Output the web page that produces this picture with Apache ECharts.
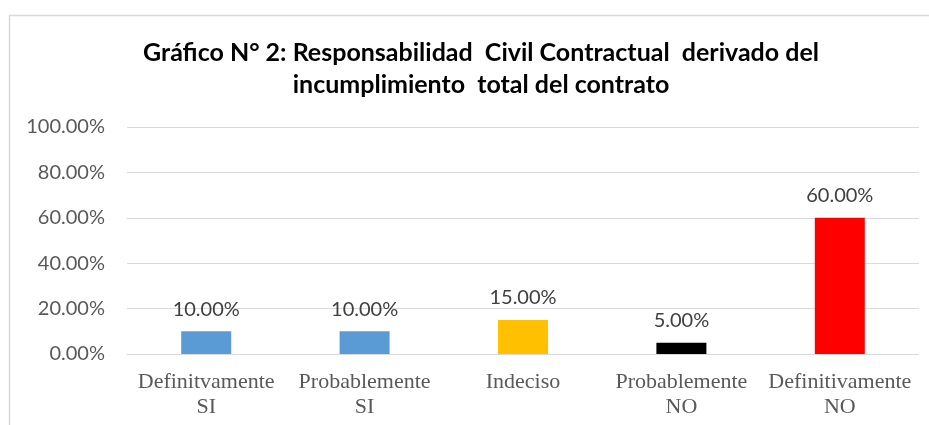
<!DOCTYPE html>
<html>
<head>
<meta charset="utf-8">
<script src="https://cdn.jsdelivr.net/npm/echarts@6/dist/echarts.min.js"></script>
<style>
  html, body { margin: 0; padding: 0; background: #fff; }
  #chart { width: 929px; height: 425px; }
</style>
</head>
<body>
<div id="chart"></div>
<script>
// datos del gráfico
const categorias = ['Definitvamente\nSI', 'Probablemente\nSI', 'Indeciso', 'Probablemente\nNO', 'Definitivamente\nNO'];
const porcentajes = [10, 10, 15, 5, 60];
const colores = ['#5B9BD5', '#5B9BD5', '#FFC000', '#000000', '#FF0000'];
const titulo = 'Gráfico N° 2: Responsabilidad  Civil Contractual  derivado del\nincumplimiento  total del contrato';

const myChart = echarts.init(document.getElementById('chart'));

const option = {
  animation: false,
  title: {
    text: titulo,
    left: 476,
    top: 32,
    textAlign: 'center',
    textStyle: {
      fontFamily: 'Lato',
      fontWeight: 'bold',
      fontSize: 25,
      lineHeight: 32,
      color: '#000'
    }
  },
  graphic: [{
    type: 'rect',
    shape: { x: 9.5, y: 15.5, width: 940, height: 440 },
    style: { fill: 'none', stroke: '#d9d9d9', lineWidth: 1.5 },
    silent: true
  }],
  grid: { left: 127, right: 10, top: 127, bottom: 71 },
  xAxis: {
    type: 'category',
    data: categorias,
    axisLine: { show: false },
    axisTick: { show: false },
    axisLabel: {
      interval: 0,
      margin: 16,
      fontFamily: 'Liberation Serif',
      fontSize: 22,
      lineHeight: 25,
      color: '#595959'
    }
  },
  yAxis: {
    type: 'value',
    min: 0,
    max: 100,
    interval: 20,
    axisLine: { show: false },
    axisTick: { show: false },
    splitLine: { lineStyle: { color: '#d9d9d9', width: 1 } },
    axisLabel: {
      margin: 22,
      fontFamily: 'Lato',
      fontSize: 20,
      color: '#595959',
      formatter: v => v.toFixed(2) + '%'
    }
  },
  series: [{
    type: 'bar',
    barWidth: 50,
    data: porcentajes.map((v, i) => ({ value: v, itemStyle: { color: colores[i] } })),
    label: {
      show: true,
      position: 'top',
      distance: 12,
      fontFamily: 'Lato',
      fontSize: 20,
      color: '#404040',
      formatter: p => p.value.toFixed(2) + '%'
    }
  }]
};

myChart.setOption(option);
</script>
</body>
</html>
